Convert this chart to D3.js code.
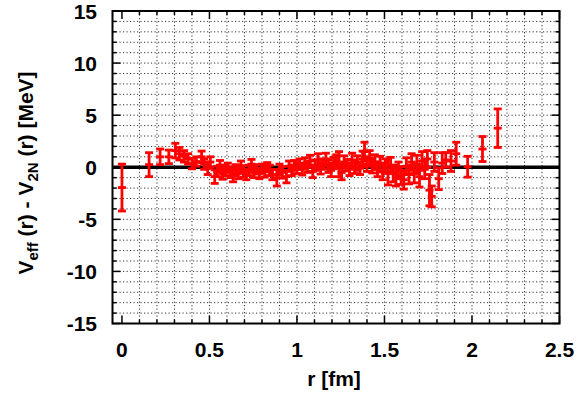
<!DOCTYPE html>
<html><head><meta charset="utf-8">
<script src="https://cdn.jsdelivr.net/npm/d3@7"></script>
<style>
body{margin:0;background:#fff;}
svg{display:block;font-family:"Liberation Sans",Arial,Helvetica,sans-serif;font-weight:bold;}
</style></head>
<body><svg id="c" width="587" height="406"></svg>
<script>
const rVals = [0.000,0.155,0.218,0.268,0.305,0.328,0.355,0.378,0.400,0.425,0.455,0.470,0.490,0.505,0.530,0.545,0.560,0.575,0.590,0.605,0.620,0.635,0.650,0.665,0.680,0.695,0.710,0.725,0.740,0.755,0.770,0.785,0.800,0.815,0.830,0.845,0.860,0.885,0.900,0.915,0.940,0.955,0.970,0.985,1.000,1.015,1.030,1.045,1.060,1.075,1.090,1.105,1.120,1.135,1.150,1.165,1.180,1.195,1.210,1.225,1.240,1.255,1.270,1.285,1.300,1.315,1.330,1.345,1.360,1.375,1.386,1.400,1.415,1.430,1.445,1.460,1.475,1.490,1.505,1.520,1.535,1.550,1.565,1.580,1.595,1.610,1.625,1.640,1.655,1.670,1.685,1.700,1.715,1.730,1.745,1.757,1.770,1.785,1.810,1.830,1.850,1.880,1.910,1.975,2.060,2.147];
const vVals = [-1.95,0.25,1.0,1.0,1.6,1.3,1.05,0.8,0.35,0.55,1.0,0.3,-0.1,0.5,-0.9,-0.4,0.2,-0.6,-0.3,0.0,-0.5,-0.8,-0.2,-0.6,0.1,-0.4,-0.7,-0.3,0.3,-0.5,-0.2,-0.6,-0.1,-0.4,0.0,-0.3,-0.7,-1.0,-0.2,-0.5,-0.9,0.1,-0.3,0.2,-0.1,0.3,-0.2,0.4,0.0,0.6,-0.4,0.2,0.7,-0.1,0.3,0.8,0.1,-0.3,0.4,0.6,0.3,-0.5,0.5,0.2,-0.2,0.7,0.0,0.4,-0.1,0.8,1.5,0.3,0.9,0.1,0.5,-0.2,0.3,-0.4,0.1,-0.5,0.2,-0.6,-0.9,-0.3,-0.8,-1.2,0.1,-0.7,0.5,-0.6,0.3,-0.9,0.6,-0.2,0.8,-2.2,-2.8,0.5,-1.1,0.4,0.7,0.6,1.3,0.05,1.75,3.75];
const eVals = [2.25,1.15,0.75,0.65,0.7,0.6,0.55,0.5,0.5,0.45,0.55,0.5,0.6,0.5,0.65,0.5,0.45,0.55,0.5,0.4,0.5,0.6,0.45,0.5,0.5,0.55,0.5,0.5,0.45,0.5,0.45,0.5,0.4,0.55,0.45,0.5,0.5,0.8,0.5,0.55,0.6,0.5,0.5,0.45,0.5,0.5,0.55,0.5,0.5,0.55,0.6,0.5,0.6,0.55,0.5,0.55,0.6,0.6,0.55,0.6,1.2,0.7,0.6,0.55,0.6,0.65,0.6,0.7,0.6,0.75,0.9,0.7,0.7,0.65,0.7,0.7,0.75,0.8,0.7,1.2,0.75,0.8,0.9,0.8,0.85,0.9,0.8,0.9,0.8,0.9,0.85,1.0,0.9,0.9,0.8,1.5,1.0,0.9,1.05,1.0,0.7,1.0,1.1,1.0,1.2,1.85];
const xTicks = [0,0.5,1,1.5,2,2.5];
const xTickLabels = ["0","0.5","1","1.5","2","2.5"];
const yTicks = [-15,-10,-5,0,5,10,15];
const yTickLabels = ["-15","-10","-5","0","5","10","15"];

const svg = d3.select("#c");
const L=112.5,R=559.5,T=11,B=323.5;
const x = d3.scaleLinear().domain([-0.054,2.5]).range([L,R]);
const y = d3.scaleLinear().domain([-15,15]).range([B,T]);

const xMinor = d3.range(0,26).map(i=>i/10);
const yMinor = d3.range(-15,16);

// grid
const g = svg.append("g");
g.selectAll(".gx").data(xMinor.filter(v=>v>0&&v<2.5)).enter().append("line")
 .attr("x1",d=>x(d)).attr("x2",d=>x(d)).attr("y1",T).attr("y2",B)
 .attr("stroke","#333").attr("stroke-width",1).attr("stroke-dasharray","1.2,2.3");
g.selectAll(".gy").data(yMinor.filter(v=>v>-15&&v<15)).enter().append("line")
 .attr("y1",d=>y(d)).attr("y2",d=>y(d)).attr("x1",L).attr("x2",R)
 .attr("stroke","#333").attr("stroke-width",1).attr("stroke-dasharray","1.2,2.3");

// ticks on all sides
const tk = svg.append("g").attr("stroke","#000").attr("stroke-width",1.5);
xMinor.forEach(v=>{
  const len = (Math.abs(v*2-Math.round(v*2))<1e-6)?8:4;
  tk.append("line").attr("x1",x(v)).attr("x2",x(v)).attr("y1",B).attr("y2",B-len);
  tk.append("line").attr("x1",x(v)).attr("x2",x(v)).attr("y1",T).attr("y2",T+len);
});
yMinor.forEach(v=>{
  const len = (v%5===0)?8:4;
  tk.append("line").attr("y1",y(v)).attr("y2",y(v)).attr("x1",L).attr("x2",L+len);
  tk.append("line").attr("y1",y(v)).attr("y2",y(v)).attr("x1",R).attr("x2",R-len);
});

// zero line
svg.append("line").attr("x1",L).attr("x2",R).attr("y1",y(0)).attr("y2",y(0))
 .attr("stroke","#000").attr("stroke-width",3.5);

// data
const data = rVals.map((r,i)=>({r:r,v:vVals[i],e:eVals[i]}));
const dg = svg.append("g").attr("stroke","#f00").attr("stroke-width",2.8);
const cw = 4;
data.forEach(d=>{
  const px=x(d.r), y1=y(d.v+d.e), y2=y(d.v-d.e), yc=y(d.v);
  dg.append("line").attr("x1",px).attr("x2",px).attr("y1",y1).attr("y2",y2);
  dg.append("line").attr("x1",px-cw).attr("x2",px+cw).attr("y1",y1).attr("y2",y1);
  dg.append("line").attr("x1",px-cw).attr("x2",px+cw).attr("y1",y2).attr("y2",y2);
  dg.append("line").attr("x1",px-cw).attr("x2",px+cw).attr("y1",yc).attr("y2",yc);
});

// frame
svg.append("rect").attr("x",L).attr("y",T).attr("width",R-L).attr("height",B-T)
 .attr("fill","none").attr("stroke","#000").attr("stroke-width",2);

// tick labels
svg.append("g").selectAll("text").data(xTicks).enter().append("text")
 .attr("x",d=>x(d)).attr("y",357).attr("text-anchor","middle")
 .attr("font-size",21).text((d,i)=>xTickLabels[i]);
svg.append("g").selectAll("text").data(yTicks).enter().append("text")
 .attr("x",97).attr("y",d=>y(d)+7.5).attr("text-anchor","end")
 .attr("font-size",21).text((d,i)=>yTickLabels[i]);

// axis titles
svg.append("text").attr("x",(L+R)/2-2).attr("y",386).attr("text-anchor","middle")
 .attr("font-size",21).text("r [fm]");
const yl = svg.append("text").attr("transform","translate(33,173) rotate(-90)")
 .attr("text-anchor","middle").attr("font-size",21);
yl.append("tspan").text("V");
yl.append("tspan").attr("font-size",15).attr("dy",5).text("eff");
yl.append("tspan").attr("dy",-5).text(" (r) - V");
yl.append("tspan").attr("font-size",15).attr("dy",5).text("2N");
yl.append("tspan").attr("dy",-5).text(" (r) [MeV]");
</script></body></html>
